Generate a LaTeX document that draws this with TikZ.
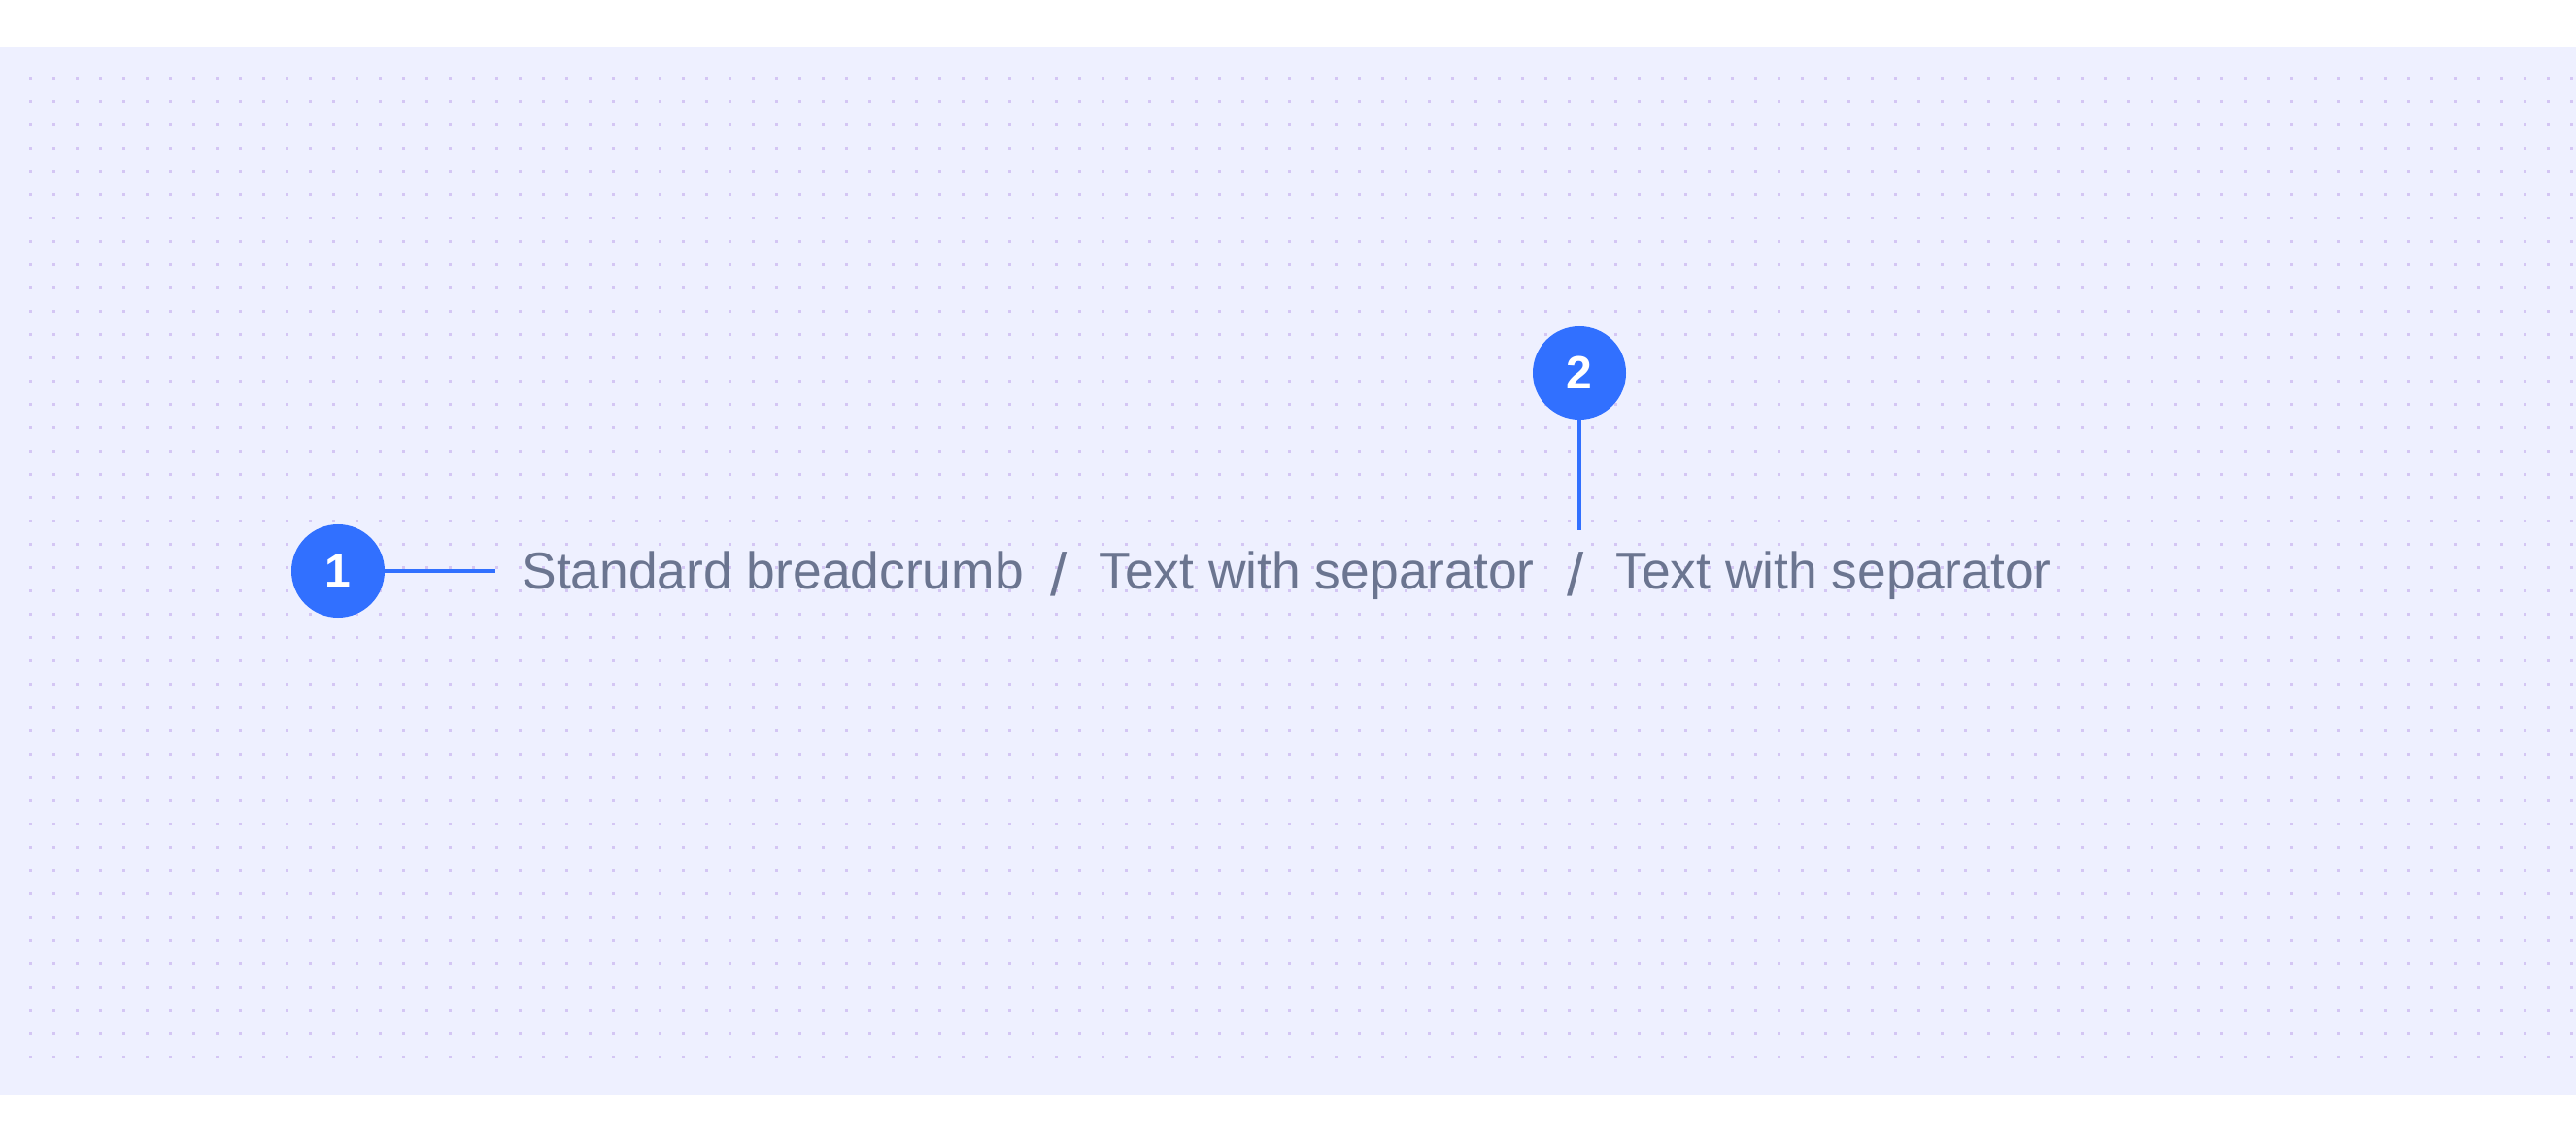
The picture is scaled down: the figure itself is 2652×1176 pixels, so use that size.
\documentclass[tikz,border=0pt]{standalone}
\usepackage{fontspec}
\setmainfont{Liberation Sans}
\usepackage{tikz}
\usetikzlibrary{positioning}
\definecolor{bgpaper}{HTML}{EEF0FF}
\definecolor{griddot}{HTML}{D4C6F4}
\definecolor{markblue}{HTML}{3170FF}
\definecolor{crumbgray}{HTML}{6B7590}

\begin{document}
\begin{tikzpicture}
    [ x=0.5pt, y=-0.5pt
    , marker/.style={circle, fill=markblue, minimum size=48pt, inner sep=0pt, text=white, font=\fontsize{24}{24}\selectfont\bfseries}
    , lead/.style={draw=markblue, line width=2pt}
    , crumb/.style={anchor=base west, inner sep=0pt, text=crumbgray, font=\fontsize{26.7}{30}\selectfont}
    , sep/.style={crumb, anchor=center, font=\fontsize{31}{31}\selectfont}
    ]
\useasboundingbox (0,0) rectangle (2652,1176);
\fill[bgpaper] (0,48) rectangle (2652,1128);
\foreach \i in {0,...,109}
  \foreach \j in {0,...,42}
    \fill[griddot] (30+24*\i,79+24*\j) rectangle ++(3,3);

\node[crumb] (home) at (537,606) {Standard breadcrumb};
\node[sep] (sepa) at (1090,591) {/};
\node[crumb] (texta) at (1131,606) {Text with separator};
\node[sep] (sepb) at (1622,591) {/};
\node[crumb] (textb) at (1663,606) {Text with separator};

\node[marker] (one) at (348,588) {1};
\node[marker] (two) at (1626,384) {2};
\coordinate (onetip) at (510,588);
\coordinate (twotip) at (1626,546);
\draw[lead] (one) -- (onetip);
\draw[lead] (two) -- (twotip);
\end{tikzpicture}
\end{document}
